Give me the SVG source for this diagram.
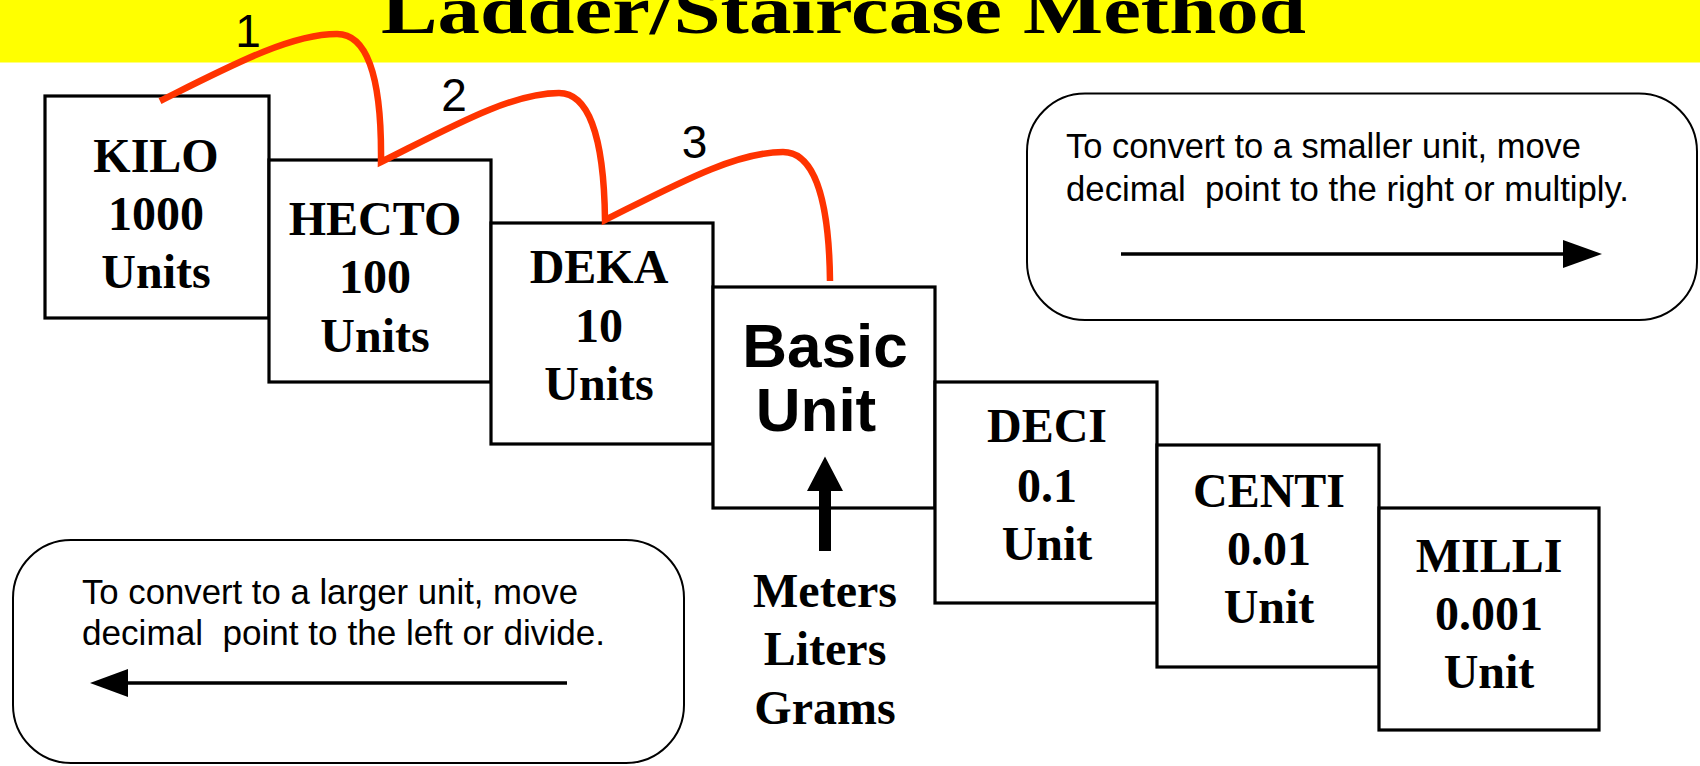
<svg xmlns="http://www.w3.org/2000/svg" width="1700" height="766" viewBox="0 0 1700 766">
  <style>
    .box { fill: #ffffff; stroke: #000000; stroke-width: 3.2; }
    .note { fill: #ffffff; stroke: #000000; stroke-width: 2; }
    .prefix { font-family: "Liberation Serif", "Times New Roman", serif; font-weight: bold; font-size: 48px; fill: #000000; text-anchor: middle; }
    .basic { font-family: "Liberation Sans", Arial, sans-serif; font-weight: bold; font-size: 62px; fill: #000000; text-anchor: middle; }
    .hint { font-family: "Liberation Sans", Arial, sans-serif; font-size: 35px; fill: #000000; }
    .step { font-family: "Liberation Sans", Arial, sans-serif; font-size: 46px; fill: #000000; text-anchor: middle; }
    .jump { fill: none; stroke: #ff3300; stroke-width: 6.5; stroke-linejoin: miter; }
    .rule { stroke: #000000; stroke-width: 3.5; }
  </style>

  <!-- title band -->
  <g id="title">
    <rect x="0" y="0" width="1700" height="62.5" fill="#ffff00"/>
    <text x="381" y="33" font-family="Liberation Serif, 'Times New Roman', serif" font-weight="bold" font-size="68" textLength="925" lengthAdjust="spacingAndGlyphs">Ladder/Staircase Method</text>
  </g>

  <!-- staircase of metric prefixes -->
  <g id="kilo">
    <rect class="box" x="45" y="96" width="224" height="222"/>
    <text class="prefix" x="156" y="171.7">KILO</text>
    <text class="prefix" x="156" y="230">1000</text>
    <text class="prefix" x="156" y="288.3">Units</text>
  </g>
  <g id="hecto">
    <rect class="box" x="269" y="160" width="222" height="222"/>
    <text class="prefix" x="375" y="235">HECTO</text>
    <text class="prefix" x="375" y="293.3">100</text>
    <text class="prefix" x="375" y="351.7">Units</text>
  </g>
  <g id="deka">
    <rect class="box" x="491" y="223" width="222" height="221"/>
    <text class="prefix" x="599" y="283.3">DEKA</text>
    <text class="prefix" x="599" y="341.7">10</text>
    <text class="prefix" x="599" y="400">Units</text>
  </g>
  <g id="basic-unit">
    <rect class="box" x="713" y="287" width="222" height="221"/>
    <text class="basic" x="825" y="366.7">Basic</text>
    <text class="basic" x="816" y="430.7">Unit</text>
  </g>
  <g id="deci">
    <rect class="box" x="935" y="382" width="222" height="221"/>
    <text class="prefix" x="1047" y="441.7">DECI</text>
    <text class="prefix" x="1047" y="501.7">0.1</text>
    <text class="prefix" x="1047" y="560">Unit</text>
  </g>
  <g id="centi">
    <rect class="box" x="1157" y="445" width="222" height="222"/>
    <text class="prefix" x="1269" y="506.7">CENTI</text>
    <text class="prefix" x="1269" y="565">0.01</text>
    <text class="prefix" x="1269" y="623.3">Unit</text>
  </g>
  <g id="milli">
    <rect class="box" x="1379" y="508" width="220" height="222"/>
    <text class="prefix" x="1489" y="571.7">MILLI</text>
    <text class="prefix" x="1489" y="630">0.001</text>
    <text class="prefix" x="1489" y="688.3">Unit</text>
  </g>

  <!-- base units pointing up into the basic unit step -->
  <g id="base-units">
    <polygon points="825,456.5 843,491 831,491 831,551 819,551 819,491 807,491" fill="#000000"/>
    <text class="prefix" x="825" y="606.7">Meters</text>
    <text class="prefix" x="825" y="665">Liters</text>
    <text class="prefix" x="825" y="724">Grams</text>
  </g>

  <!-- rule for moving to smaller units -->
  <g id="note-smaller">
    <rect class="note" x="1027" y="93.5" width="670" height="226.5" rx="58" ry="58"/>
    <text class="hint" x="1066" y="158" textLength="515" lengthAdjust="spacingAndGlyphs">To convert to a smaller unit, move</text>
    <text class="hint" x="1066" y="201" textLength="563" lengthAdjust="spacingAndGlyphs" xml:space="preserve">decimal  point to the right or multiply.</text>
    <line class="rule" x1="1121" y1="254" x2="1566" y2="254"/>
    <polygon points="1602,254 1563,240 1563,268" fill="#000000"/>
  </g>

  <!-- rule for moving to larger units -->
  <g id="note-larger">
    <rect class="note" x="13" y="540" width="671" height="223" rx="58" ry="58"/>
    <text class="hint" x="82" y="604" textLength="496" lengthAdjust="spacingAndGlyphs">To convert to a larger unit, move</text>
    <text class="hint" x="82" y="645" textLength="523" lengthAdjust="spacingAndGlyphs" xml:space="preserve">decimal  point to the left or divide.</text>
    <line class="rule" x1="125" y1="683" x2="567" y2="683"/>
    <polygon points="90,683 128,669 128,697" fill="#000000"/>
  </g>

  <!-- jumps between prefixes -->
  <g id="connectors">
    <path class="jump" d="M160,101 C230,66 290,34 337,34 C365,34 382,71 381,162 C451,127 511,93 559,93 C587,93 604,132 605,220 C675,185 735,152 783,152 C811,152 829,190 830,281"/>
    <text class="step" x="248" y="46.5">1</text>
    <text class="step" x="454" y="110.7">2</text>
    <text class="step" x="694.5" y="158.3">3</text>
  </g>
</svg>
